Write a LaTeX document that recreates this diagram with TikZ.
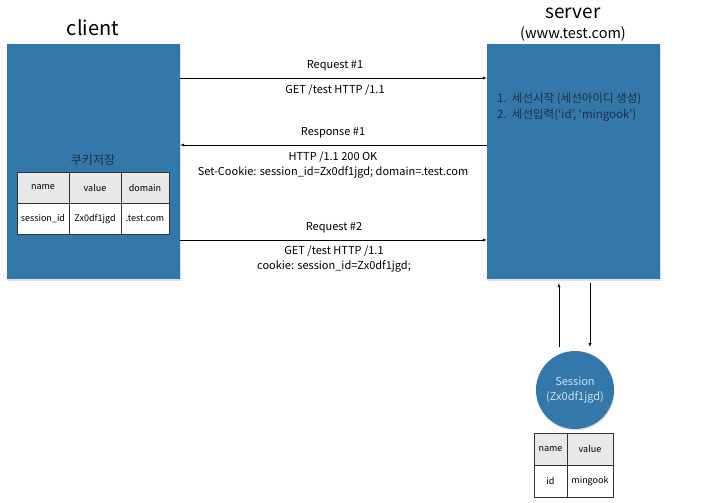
\documentclass[tikz,border=0pt]{standalone}
\usepackage{fontspec}
\setmainfont{Noto Sans CJK KR}
\usepackage{tikz}
\usepackage{xcolor}
\tikzset{>=latex}
\usetikzlibrary{calc,shadows}

\definecolor{boxblue}{HTML}{3478AA}
\definecolor{inkblue}{HTML}{1A2F45}
\definecolor{paleblue}{HTML}{CFE0EE}
\definecolor{headgray}{HTML}{E8E8E8}

\tikzset{
  hostbox/.style={draw=none, fill=boxblue, minimum width=173pt, minimum height=235pt,
    inner sep=0pt, drop shadow={shadow xshift=1pt, shadow yshift=-1.5pt, opacity=0.25}},
  msg/.style={font=\fontsize{11}{15}\selectfont, align=center, inner sep=0pt},
  cell/.style={draw=black!80, thin, inner sep=0pt, font=\fontsize{9}{11}\selectfont},
  headcell/.style={cell, fill=headgray},
  bodycell/.style={cell, fill=white},
}

\begin{document}
\begin{tikzpicture}[x=1pt, y=-1pt]
    \useasboundingbox (0, 0) rectangle (721, 503);
    % hosts
    \node[hostbox] (client) at (93.5, 161.5) {};
    \node[hostbox] (server) at (573.5, 161.5) {};
    \node[font=\fontsize{20}{24}\selectfont, inner sep=0pt] (clientname) at (93, 28) {client};
    \node[font=\fontsize{19}{22}\selectfont, inner sep=0pt] (servername) at (573, 13) {server};
    \node[font=\fontsize{14.5}{16}\selectfont, inner sep=0pt] (serverurl) at (573, 34) {(www.test.com)};

    % messages
    \draw[->] (client.east |- 0, 78) -- (server.west |- 0, 78);
    \node[msg] (req1) at (335, 66) {Request \#1};
    \node[msg] (req1body) at (335, 90) {GET /test HTTP /1.1};
    \draw[->] (server.west |- 0, 145) -- (client.east |- 0, 145);
    \node[msg] (res1) at (333, 133) {Response \#1};
    \node[msg] (res1body) at (333, 165) {HTTP /1.1 200 OK\\Set-Cookie: session\_id=Zx0df1jgd; domain=.test.com};
    \draw[->] (client.east |- 0, 240) -- (server.west |- 0, 240);
    \node[msg] (req2) at (334, 228) {Request \#2};
    \node[msg] (req2body) at (334, 259) {GET /test HTTP /1.1\\cookie: session\_id=Zx0df1jgd;};

    % server steps
    \node[msg, align=left, anchor=north west, text=inkblue, font=\fontsize{11.5}{16}\selectfont]
      (steps) at (497, 93) {1.\ \ 세선시작 (세선아이디 생성)\\2.\ \ 세선입력(‘id’, ‘mingook’)};

    % cookie store
    \node[msg, text=inkblue, font=\fontsize{12}{14}\selectfont] (jar) at (93, 160) {쿠키저장};
    \node[headcell, minimum width=52pt, minimum height=31pt] (cname) at (43, 187.5) {name};
    \node[headcell, minimum width=52pt, minimum height=31pt] (cvalue) at (95, 187.5) {value};
    \node[headcell, minimum width=48pt, minimum height=31pt] (cdomain) at (145, 187.5) {domain};
    \node[bodycell, minimum width=52pt, minimum height=31pt] (cid) at (43, 218.5) {session\_id};
    \node[bodycell, minimum width=52pt, minimum height=31pt] (cval) at (95, 218.5) {Zx0df1jgd};
    \node[bodycell, minimum width=48pt, minimum height=31pt] (cdom) at (145, 218.5) {.test.com};

    % session store
    \node[circle, fill=boxblue, minimum size=78pt, inner sep=0pt, align=center, text=paleblue,
      font=\fontsize{11}{15}\selectfont, drop shadow={shadow xshift=0.5pt, shadow yshift=-1.5pt, opacity=0.25}]
      (session) at (575, 390) {Session\\(Zx0df1jgd)};
    \draw[->, shorten >=4pt] (559, 347) coordinate (upfoot) -- (upfoot |- server.south);
    \draw[->, shorten <=4pt] (server.south -| 590, 0) -- (590, 347) coordinate (downhead);
    \node[headcell, minimum width=33pt, minimum height=32pt] (sname) at (550.5, 449) {name};
    \node[headcell, minimum width=46pt, minimum height=32pt] (svalue) at (590, 449) {value};
    \node[bodycell, minimum width=33pt, minimum height=32pt] (sid) at (550.5, 481) {id};
    \node[bodycell, minimum width=46pt, minimum height=32pt] (sval) at (590, 481) {mingook};
\end{tikzpicture}
\end{document}
